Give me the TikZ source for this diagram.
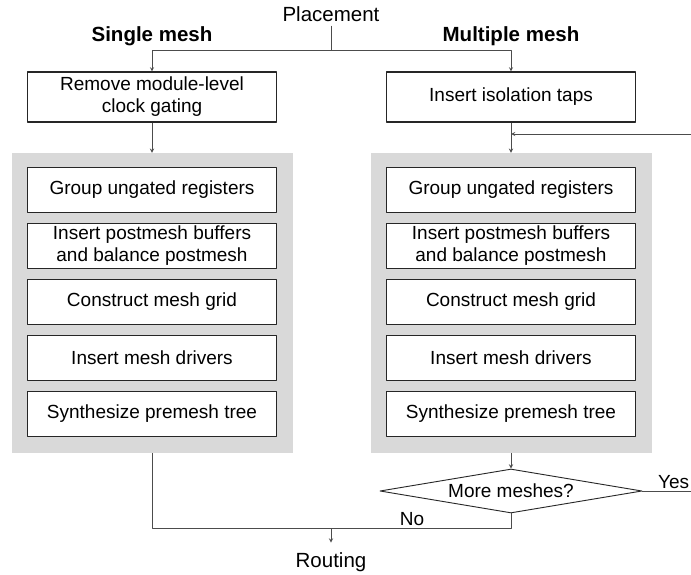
\documentclass[tikz,border=0pt]{standalone}
\usepackage{fontspec}
\setmainfont{Liberation Sans}
\usetikzlibrary{shapes.geometric}

\begin{document}
\begin{tikzpicture}[x=1pt,y=-1pt,>=stealth, line join=round,
	box/.style={draw=black!85, line width=1.1pt, fill=white, minimum width=249pt, minimum height=45pt, align=center, inner sep=1pt, font=\fontsize{19}{22}\selectfont},
	panel/.style={fill=black!15, minimum width=281pt, minimum height=300pt, inner sep=0pt},
	link/.style={draw=black!70, line width=0.9pt},
	head/.style={anchor=base, font=\fontsize{20.5}{24}\selectfont\bfseries},
	label/.style={font=\fontsize{20.5}{24}\selectfont}]
	\useasboundingbox (0,0) rectangle (691,575);
	% grey panels
	\node[panel] (lpanel) at (152,303) {};
	\node[panel] (rpanel) at (511,303) {};
	% titles
	\node[label, anchor=base] (place) at (331,22) {Placement};
	\node[head] (single) at (152,42) {Single mesh};
	\node[head] (multi) at (511,42) {Multiple mesh};
	\node[label, anchor=base] (route) at (331,567) {Routing};
	% steps
	\node[box, minimum height=50pt] (remove) at (152,97) {Remove module-level\\clock gating};
	\node[box, minimum height=50pt] (taps) at (511,97) {Insert isolation taps};
	\foreach \c/\x in {l/152, r/511}
	{
		\foreach \t [count=\i] in {Group ungated registers, {Insert postmesh buffers\\and balance postmesh}, Construct mesh grid, Insert mesh drivers, Synthesize premesh tree}
		\node[box] (\c\i) at (\x,{134+56*\i}) {\t};
	}
	\node[diamond, draw=black!85, line width=0.9pt, aspect=6, inner sep=0pt, minimum width=262pt, minimum height=44pt, font=\fontsize{19}{22}\selectfont] (more) at (511,491) {More meshes?};
	% connectors
	\coordinate (split) at (331,50);
	\coordinate (loop) at (691,134);
	\coordinate (yes) at (691,491);
	\coordinate (merge) at (331,528);
	\draw[link] (place.south) -- (split);
	\draw[link,->] (split) -| (remove.north);
	\draw[link,->] (split) -| (taps.north);
	\draw[link,->] (remove.south) -- (lpanel.north);
	\draw[link,->] (taps.south) -- (rpanel.north);
	\draw[link,->] (loop) -- (loop -| taps.south);
	\draw[link,->] (rpanel.south) -- (more.north);
	\draw[link] (more.east) -- (yes) node[pos=1, above left, inner sep=1.5pt, font=\fontsize{19}{22}\selectfont]{Yes};
	\draw[link] (more.south) |- (merge) node[pos=.775, above, inner sep=2pt, font=\fontsize{19}{22}\selectfont]{No};
	\draw[link] (lpanel.south) |- (merge);
	\draw[link,->,shorten >=6pt] (merge) -- (route.north);
\end{tikzpicture}
\end{document}
